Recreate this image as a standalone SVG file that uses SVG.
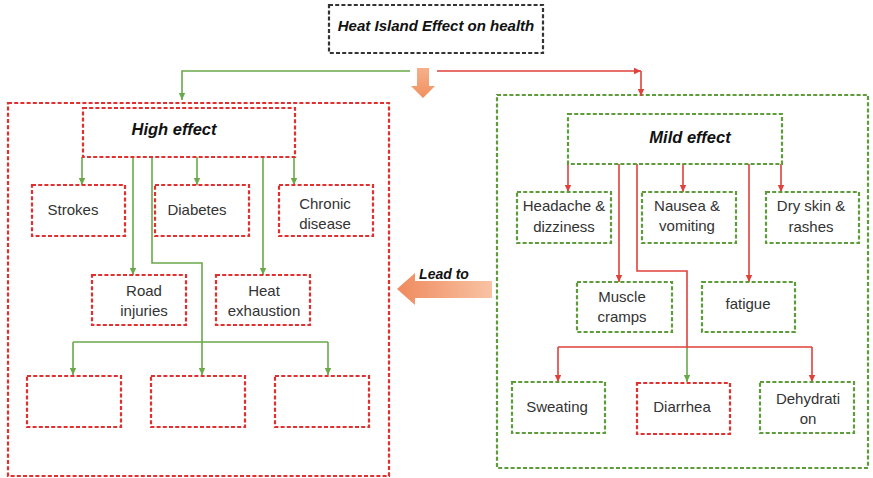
<svg xmlns="http://www.w3.org/2000/svg" width="873" height="478" viewBox="0 0 873 478">
  <defs>
    <style>
      .txt { font-family: "Liberation Sans", Arial, sans-serif; font-size: 15px; fill: #333; text-anchor: middle; }
      .head { font-family: "Liberation Sans", Arial, sans-serif; font-weight: bold; font-style: italic; fill: #111; text-anchor: middle; }
      .box-r { fill: #fff; stroke: #e0302f; stroke-width: 2.2; stroke-dasharray: 4 2.2; }
      .box-g { fill: #fff; stroke: #5e9b3b; stroke-width: 2.2; stroke-dasharray: 4 2.2; }
      .box-k { fill: #fff; stroke: #333; stroke-width: 2.2; stroke-dasharray: 4 2.2; }
      .ln-g { fill: none; stroke: #6aa84a; stroke-width: 1.6; }
      .ln-r { fill: none; stroke: #e0413a; stroke-width: 1.6; }
    </style>
    <marker id="arr-g" markerWidth="8" markerHeight="8" refX="7" refY="4" orient="auto" markerUnits="userSpaceOnUse">
      <path d="M0,0.8 L7,4 L0,7.2 Z" fill="#6aa84a"/>
    </marker>
    <marker id="arr-r" markerWidth="8" markerHeight="8" refX="7" refY="4" orient="auto" markerUnits="userSpaceOnUse">
      <path d="M0,0.8 L7,4 L0,7.2 Z" fill="#e0413a"/>
    </marker>
    <linearGradient id="grad-left" x1="1" y1="0" x2="0" y2="0">
      <stop offset="0" stop-color="#f9c3a3"/>
      <stop offset="1" stop-color="#ef8a5e"/>
    </linearGradient>
    <linearGradient id="grad-down" x1="0" y1="0" x2="0" y2="1">
      <stop offset="0" stop-color="#f7b08a"/>
      <stop offset="1" stop-color="#f0905f"/>
    </linearGradient>
  </defs>

  <rect width="873" height="478" fill="#fff"/>

  <!-- outer containers -->
  <g id="high-panel">
    <rect class="box-r" x="8" y="103" width="381" height="373"/>
  </g>
  <g id="mild-panel">
    <rect class="box-g" x="497" y="95" width="371" height="373"/>
  </g>

  <!-- block arrows -->
  <g id="down-arrow">
    <polygon points="417,68 429,68 429,86 435,86 423,98 411,86 417,86" fill="url(#grad-down)"/>
  </g>
  <g id="lead-to">
    <polygon points="397,289 415,273 415,281 492,281 492,298 415,298 415,305" fill="url(#grad-left)"/>
    <text class="head" x="444" y="279" font-size="14">Lead to</text>
  </g>

  <!-- connectors -->
  <g id="connectors">
    <!-- from title -->
    <path class="ln-g" d="M410,71 H182 V100" marker-end="url(#arr-g)"/>
    <path class="ln-r" d="M437,71 H641" marker-end="url(#arr-r)"/>
    <path class="ln-r" d="M641,71 V96" marker-end="url(#arr-r)"/>

    <!-- high effect branch -->
    <path class="ln-g" d="M82,157 V185" marker-end="url(#arr-g)"/>
    <path class="ln-g" d="M197,157 V185" marker-end="url(#arr-g)"/>
    <path class="ln-g" d="M294,157 V185" marker-end="url(#arr-g)"/>
    <path class="ln-g" d="M133,157 V275" marker-end="url(#arr-g)"/>
    <path class="ln-g" d="M263,157 V275" marker-end="url(#arr-g)"/>
    <path class="ln-g" d="M152,157 V263 H202 V375" marker-end="url(#arr-g)"/>
    <path class="ln-g" d="M73,342 H328"/>
    <path class="ln-g" d="M73,342 V375" marker-end="url(#arr-g)"/>
    <path class="ln-g" d="M328,342 V375" marker-end="url(#arr-g)"/>

    <!-- mild effect branch -->
    <path class="ln-r" d="M568,164 V192" marker-end="url(#arr-r)"/>
    <path class="ln-r" d="M683,164 V192" marker-end="url(#arr-r)"/>
    <path class="ln-r" d="M781,164 V192" marker-end="url(#arr-r)"/>
    <path class="ln-r" d="M619,164 V282" marker-end="url(#arr-r)"/>
    <path class="ln-r" d="M749,164 V282" marker-end="url(#arr-r)"/>
    <path class="ln-r" d="M637,164 V271 H687 V347"/>
    <path class="ln-g" d="M687,347 V382" marker-end="url(#arr-g)"/>
    <path class="ln-r" d="M558,347 H812"/>
    <path class="ln-r" d="M558,347 V382" marker-end="url(#arr-r)"/>
    <path class="ln-r" d="M812,347 V382" marker-end="url(#arr-r)"/>
  </g>

  <!-- title -->
  <g id="title">
    <rect class="box-k" x="329" y="5" width="214" height="48"/>
    <text class="head" x="436" y="31" font-size="15">Heat Island Effect on health</text>
  </g>

  <!-- high effect nodes -->
  <g id="high-effect">
    <rect class="box-r" x="83" y="108" width="212" height="49"/>
    <text class="head" x="174" y="135" font-size="16.5">High effect</text>
  </g>
  <g id="strokes">
    <rect class="box-r" x="32" y="185" width="93" height="51"/>
    <text class="txt" x="73" y="215">Strokes</text>
  </g>
  <g id="diabetes">
    <rect class="box-r" x="155" y="185" width="94" height="51"/>
    <text class="txt" x="197" y="215">Diabetes</text>
  </g>
  <g id="chronic">
    <rect class="box-r" x="279" y="185" width="94" height="51"/>
    <text class="txt" x="325" y="209">Chronic</text>
    <text class="txt" x="325" y="229">disease</text>
  </g>
  <g id="road-injuries">
    <rect class="box-r" x="92" y="275" width="94" height="50"/>
    <text class="txt" x="144" y="296">Road</text>
    <text class="txt" x="144" y="316">injuries</text>
  </g>
  <g id="heat-exhaustion">
    <rect class="box-r" x="216" y="275" width="94" height="50"/>
    <text class="txt" x="264" y="296">Heat</text>
    <text class="txt" x="264" y="316">exhaustion</text>
  </g>
  <g id="empty-1">
    <rect class="box-r" x="27" y="376" width="94" height="51"/>
  </g>
  <g id="empty-2">
    <rect class="box-r" x="151" y="376" width="94" height="51"/>
  </g>
  <g id="empty-3">
    <rect class="box-r" x="275" y="376" width="94" height="51"/>
  </g>

  <!-- mild effect nodes -->
  <g id="mild-effect">
    <rect class="box-g" x="568" y="114" width="214" height="50"/>
    <text class="head" x="690" y="143" font-size="16.5">Mild effect</text>
  </g>
  <g id="headache">
    <rect class="box-g" x="517" y="192" width="94" height="51"/>
    <text class="txt" x="564" y="211">Headache &amp;</text>
    <text class="txt" x="564" y="232">dizziness</text>
  </g>
  <g id="nausea">
    <rect class="box-g" x="642" y="192" width="94" height="51"/>
    <text class="txt" x="687" y="211">Nausea &amp;</text>
    <text class="txt" x="687" y="231">vomiting</text>
  </g>
  <g id="dry-skin">
    <rect class="box-g" x="766" y="192" width="93" height="51"/>
    <text class="txt" x="811" y="211">Dry skin &amp;</text>
    <text class="txt" x="811" y="232">rashes</text>
  </g>
  <g id="muscle-cramps">
    <rect class="box-g" x="577" y="282" width="95" height="50"/>
    <text class="txt" x="622" y="302">Muscle</text>
    <text class="txt" x="622" y="322">cramps</text>
  </g>
  <g id="fatigue">
    <rect class="box-g" x="702" y="282" width="93" height="50"/>
    <text class="txt" x="748" y="309">fatigue</text>
  </g>
  <g id="sweating">
    <rect class="box-g" x="512" y="382" width="93" height="51"/>
    <text class="txt" x="557" y="412">Sweating</text>
  </g>
  <g id="diarrhea">
    <rect class="box-r" x="637" y="383" width="93" height="51"/>
    <text class="txt" x="682" y="412">Diarrhea</text>
  </g>
  <g id="dehydration">
    <rect class="box-g" x="760" y="382" width="94" height="51"/>
    <text class="txt" x="808" y="404">Dehydrati</text>
    <text class="txt" x="808" y="424">on</text>
  </g>
</svg>
